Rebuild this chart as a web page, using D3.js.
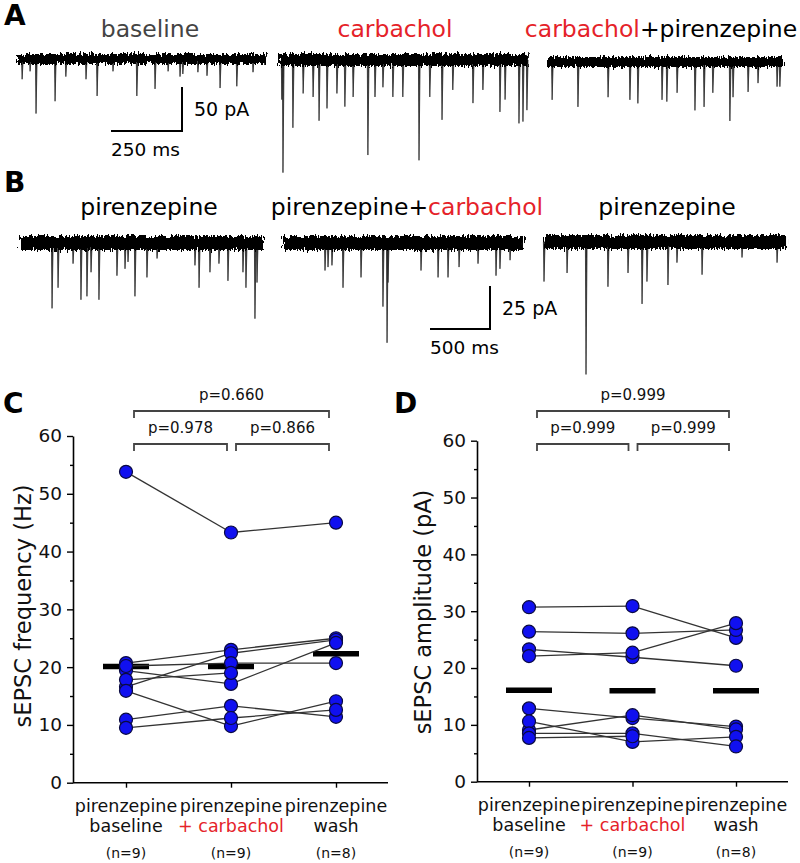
<!DOCTYPE html>
<html><head><meta charset="utf-8">
<script src="https://cdn.jsdelivr.net/npm/d3@7"></script>
<style>
body{margin:0;background:#fff}
svg{display:block}
text{font-family:"DejaVu Sans",sans-serif}
</style></head>
<body><svg id="fig" width="800" height="863">
<defs>
<filter id="rough" filterUnits="userSpaceOnUse" x="0" y="0" width="800" height="863">
<feTurbulence type="fractalNoise" baseFrequency="0.7 0.12" numOctaves="2" seed="11" result="n"/>
<feDisplacementMap in="SourceGraphic" in2="n" scale="9" xChannelSelector="B" yChannelSelector="R"/>
</filter>
</defs>
</svg>
<script>
// ---------------- DATA ----------------
const titlesA = ["baseline", "carbachol", "carbachol+pirenzepine"];
const titlesB = ["pirenzepine", "pirenzepine+carbachol", "pirenzepine"];
const panelLetters = ["A", "B", "C", "D"];

// Trace events: [time (ms), amplitude (pA, downward)]
const traceA1 = [[18,23],[46,14],[67,62],[134,48],[172,20],[243,23],[282,42],[338,14],[422,42],[486,34],[532,14],[574,20],[584,17],[637,15],[669,19],[715,33],[774,31],[831,15]];
const traceA2 = [[10,45],[14,128],[49,77],[85,38],[120,42],[141,69],[169,55],[204,38],[232,53],[261,42],[313,108],[338,42],[366,31],[401,42],[436,42],[493,114],[531,42],[574,68],[612,34],[683,49],[718,34],[778,59],[796,45],[845,72],[859,70],[873,57]];
const traceA3 = [[18,43],[109,51],[215,40],[292,43],[320,47],[405,43],[422,45],[458,35],[521,55],[553,51],[584,35],[644,67],[655,40],[708,34],[743,24],[810,28],[820,28]];
const traceB1 = [[267,38],[317,26],[442,12],[508,33],[558,31],[592,17],[658,33],[808,19],[875,15],[900,11],[958,31],[1058,20],[1142,9],[1458,13],[1492,26],[1583,17],[1658,12],[1733,22],[1858,17],[1883,26],[1958,44],[1975,23]];
const traceB2 = [[350,16],[375,14],[408,13],[500,26],[650,20],[833,37],[867,58],[875,23],[1150,16],[1292,20],[1375,20],[1467,14],[1625,12],[1775,19],[1808,15],[1892,10]];
const traceB3 = [[0,23],[192,18],[350,77],[533,26],[700,18],[817,36],[858,23],[1033,25],[1108,12],[1317,19],[1650,9],[1942,12]];
const durationsA = [876, 876, 831];   // ms
const durationsB = [2025, 2008, 2017]; // ms
const scaleBarA = {ms: 250, pA: 50, msLabel: "250 ms", pALabel: "50 pA"};
const scaleBarB = {ms: 500, pA: 25, msLabel: "500 ms", pALabel: "25 pA"};

// Summary panels
const groups = ["pirenzepine baseline", "pirenzepine + carbachol", "pirenzepine wash"];
const groupLine1 = ["pirenzepine", "pirenzepine", "pirenzepine"];
const groupLine2 = ["baseline", "+ carbachol", "wash"];
const groupN = ["(n=9)", "(n=9)", "(n=8)"];
const yTicks = [0, 10, 20, 30, 40, 50, 60];
const yMinorTicks = [5, 15, 25, 35, 45, 55];
const comparisons = [[0, 1], [1, 2], [0, 2]];

const freqLabel = "sEPSC frequency (Hz)";
const freqSubjects = [
  [53.8, 43.3, 45.0],
  [20.7, 23.0, 25.0],
  [16.6, 22.4, 24.7],
  [19.4, 17.1, 24.2],
  [20.2, 20.7, 20.7],
  [17.8, 19.0, null],
  [15.9, 9.8, 14.1],
  [10.9, 13.3, 11.4],
  [9.5, 11.2, 12.6]
];
const freqMeans = [20.1, 20.1, 22.3];
const freqP = ["p=0.978", "p=0.866", "p=0.660"];

const ampLabel = "sEPSC amplitude (pA)";
const ampSubjects = [
  [30.7, 30.9, 25.3],
  [26.4, 26.1, 26.7],
  [23.3, 21.9, 20.4],
  [22.1, 22.7, 27.9],
  [12.9, 11.2, 9.7],
  [9.1, 11.7, 9.2],
  [10.6, 7.0, 7.9],
  [8.5, 8.5, 6.2],
  [7.7, 8.0, null]
];
const ampMeans = [16.1, 16.0, 16.0];
const ampP = ["p=0.999", "p=0.999", "p=0.999"];

// ---------------- DRAW ----------------
const RED = "#e52229";
const svg = d3.select("#fig");

function colorText(t, str, base) {
  str.split(/(carbachol)/).filter(s => s.length).forEach(p => {
    t.append("tspan").text(p).attr("fill", p === "carbachol" ? RED : base);
  });
}

// panel letters
const letterPos = [[4, 25], [4, 192], [3, 413], [394, 413]];
panelLetters.forEach((l, i) => {
  svg.append("text").attr("x", letterPos[i][0]).attr("y", letterPos[i][1])
    .attr("font-size", 28).attr("font-weight", "bold").attr("fill", "#000").text(l);
});

// titles
const titleAX = [150, 395, 661], titleBX = [149, 407, 667];
titlesA.forEach((s, i) => {
  const t = svg.append("text").attr("x", titleAX[i]).attr("y", 37).attr("text-anchor", "middle").attr("font-size", 23.5);
  colorText(t, s, i === 0 ? "#444" : "#000");
});
titlesB.forEach((s, i) => {
  const t = svg.append("text").attr("x", titleBX[i]).attr("y", 215).attr("text-anchor", "middle").attr("font-size", 23.5);
  colorText(t, s, "#000");
});

function drawTrace(events, dur, x0, y0, pxMs, pxPA, band) {
  const g = svg.append("g");
  const x = d3.scaleLinear().domain([0, dur]).range([x0, x0 + dur * pxMs]);
  const y = d3.scaleLinear().domain([0, 100]).range([y0, y0 + 100 * pxPA]);
  g.selectAll(null).data(events).join("path")
    .attr("d", d => `M${x(d[0]) - 0.6},${y0} L${x(d[0])},${y(d[1])} L${x(d[0]) + 1.1},${y0} Z`)
    .attr("fill", "#2a2a2a").attr("stroke", "#2a2a2a").attr("stroke-width", 0.8).attr("stroke-linejoin", "round");
  g.append("rect").attr("x", x(0)).attr("width", x(dur) - x(0)).attr("y", y0 - band / 2).attr("height", band)
    .attr("fill", "#000").attr("filter", "url(#rough)");
  return {x, y};
}

const pxMsA = 71 / 250, pxPAA = 44 / 50;
const pxMsB = 60 / 500, pxPAB = 43 / 25;
const trA = [traceA1, traceA2, traceA3], trB = [traceB1, traceB2, traceB3];
const startA = [17, 279, 547], yA = [59, 60, 62];
const startB = [20, 283, 544], yB = [243, 243, 242];
trA.forEach((ev, i) => drawTrace(ev, durationsA[i], startA[i], yA[i], pxMsA, pxPAA, i === 1 ? 12 : 10));
trB.forEach((ev, i) => drawTrace(ev, durationsB[i], startB[i], yB[i], pxMsB, pxPAB, 14));

function scaleBar(sb, cornerX, cornerY, pxMs, pxPA) {
  const w = sb.ms * pxMs, h = sb.pA * pxPA;
  svg.append("path").attr("d", `M${cornerX - w},${cornerY} H${cornerX} V${cornerY - h}`)
    .attr("fill", "none").attr("stroke", "#000").attr("stroke-width", 2);
  svg.append("text").attr("x", cornerX + 12).attr("y", cornerY - h / 2 + 7).attr("font-size", 19).text(sb.pALabel);
  svg.append("text").attr("x", cornerX - w).attr("y", cornerY + 25).attr("font-size", 18.5).text(sb.msLabel);
}
scaleBar(scaleBarA, 182, 131, pxMsA, pxPAA);
scaleBar(scaleBarB, 490, 329, pxMsB, pxPAB);

function summary(cfg) {
  const g = svg.append("g");
  const x = d3.scalePoint().domain(groups).range(cfg.xr);
  const y = d3.scaleLinear().domain([0, 60]).range(cfg.yr);
  // y axis
  const ax = g.append("g").attr("transform", `translate(${cfg.axisX},0)`)
    .call(d3.axisLeft(y).tickValues(yTicks).tickSize(6).tickSizeOuter(0).tickPadding(5));
  ax.select(".domain").attr("stroke-width", 1.6);
  ax.selectAll(".tick line").attr("stroke-width", 1.4);
  ax.selectAll("text").attr("font-size", 18.5).attr("font-family", '"DejaVu Sans",sans-serif').attr("fill", "#111");
  const axm = g.append("g").attr("transform", `translate(${cfg.axisX},0)`)
    .call(d3.axisLeft(y).tickValues(yMinorTicks).tickSize(3).tickFormat(""));
  axm.select(".domain").remove();
  axm.selectAll(".tick line").attr("stroke-width", 1.4);
  // x axis
  g.append("line").attr("x1", cfg.axisX).attr("x2", cfg.xEnd).attr("y1", y(0)).attr("y2", y(0))
    .attr("stroke", "#000").attr("stroke-width", 1.6);
  const xa = g.append("g").attr("transform", `translate(0,${y(0)})`)
    .call(d3.axisBottom(x).tickSize(5).tickFormat(""));
  xa.select(".domain").remove();
  xa.selectAll(".tick line").attr("stroke-width", 1.4);
  // category labels
  groups.forEach((gname, i) => {
    g.append("text").attr("x", x(gname)).attr("y", y(0) + 29).attr("text-anchor", "middle")
      .attr("font-size", 17.5).attr("fill", "#111").text(groupLine1[i]);
    g.append("text").attr("x", x(gname)).attr("y", y(0) + 49).attr("text-anchor", "middle")
      .attr("font-size", 17.5).attr("fill", groupLine2[i].includes("carbachol") ? RED : "#111").text(groupLine2[i]);
    g.append("text").attr("x", x(gname)).attr("y", y(0) + 75).attr("text-anchor", "middle")
      .attr("font-size", 14).attr("fill", "#111").text(groupN[i]);
  });
  // y label
  g.append("text").attr("transform", `translate(${cfg.labelX},${cfg.labelY}) rotate(-90)`)
    .attr("text-anchor", "middle").attr("font-size", 22.5).attr("fill", "#111").text(cfg.label);
  // means
  g.selectAll(null).data(cfg.means).join("line")
    .attr("x1", (d, i) => x(groups[i]) - 23).attr("x2", (d, i) => x(groups[i]) + 23)
    .attr("y1", d => y(d)).attr("y2", d => y(d))
    .attr("stroke", "#000").attr("stroke-width", 5.5);
  // subject lines
  const segs = [];
  cfg.subjects.forEach(s => {
    for (let i = 0; i < s.length - 1; i++) {
      if (s[i] != null && s[i + 1] != null) segs.push([i, s[i], i + 1, s[i + 1]]);
    }
  });
  g.selectAll(null).data(segs).join("line")
    .attr("x1", d => x(groups[d[0]])).attr("y1", d => y(d[1]))
    .attr("x2", d => x(groups[d[2]])).attr("y2", d => y(d[3]))
    .attr("stroke", "#333").attr("stroke-width", 1.3);
  // points
  const pts = [];
  cfg.subjects.forEach(s => s.forEach((v, i) => { if (v != null) pts.push([i, v]); }));
  g.selectAll(null).data(pts).join("circle")
    .attr("cx", d => x(groups[d[0]])).attr("cy", d => y(d[1])).attr("r", 6.5)
    .attr("fill", "#1010f0").attr("stroke", "#0a0a40").attr("stroke-width", 1.2);
  // brackets
  comparisons.forEach((c, k) => {
    const top = c[1] - c[0] === 2;
    const by = top ? 411 : 444;
    const x1 = x(groups[c[0]]) + (c[0] === 0 ? 8 : 5);
    const x2 = x(groups[c[1]]) - (c[1] === 2 ? 7 : 4);
    g.append("path").attr("d", `M${x1},${by + 7} V${by} H${x2} V${by + 7}`)
      .attr("fill", "none").attr("stroke", "#444").attr("stroke-width", 1.8);
    g.append("text").attr("x", (x1 + x2) / 2).attr("y", by - 11).attr("text-anchor", "middle")
      .attr("font-size", 15).attr("fill", "#111").text(cfg.p[k]);
  });
}

summary({xr: [126, 336], yr: [782.7, 436], axisX: 73, xEnd: 388, subjects: freqSubjects, means: freqMeans,
  p: freqP, label: freqLabel, labelX: 31, labelY: 606});
summary({xr: [529, 736], yr: [781.7, 440.7], axisX: 477, xEnd: 788, subjects: ampSubjects, means: ampMeans,
  p: ampP, label: ampLabel, labelX: 431, labelY: 612});
</script>
</body></html>
